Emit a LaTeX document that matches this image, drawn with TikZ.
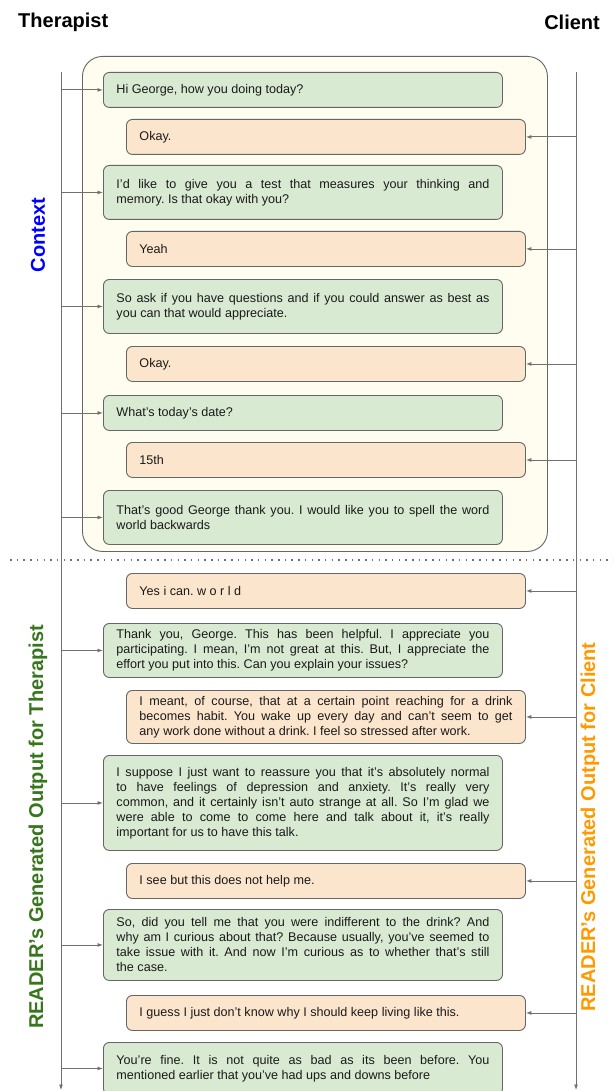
\documentclass[tikz,border=0pt]{standalone}
\usepackage{fontspec}
\setmainfont{Liberation Sans}
\usetikzlibrary{arrows.meta}
\frenchspacing
\definecolor{gfill}{HTML}{D9EAD3}
\definecolor{ofill}{HTML}{FCE5CD}
\definecolor{cfill}{HTML}{FFFCF0}
\definecolor{edgegray}{HTML}{666666}
\definecolor{linegray}{HTML}{707070}
\definecolor{txt}{HTML}{1A1A1A}
\definecolor{ctxblue}{HTML}{0000FF}
\definecolor{thgreen}{HTML}{38761D}
\definecolor{clorange}{HTML}{FF9900}
\tikzset{
  msgbox/.style={draw=edgegray, line width=0.9pt, rounded corners=6pt, anchor=north west,
    minimum width=399pt, text width=373pt, inner xsep=13pt, inner ysep=3pt,
    align=justify, text=txt, font=\fontsize{12.6}{15}\selectfont\frenchspacing},
  gbox/.style={msgbox, fill=gfill},
  obox/.style={msgbox, fill=ofill},
  conn/.style={draw=linegray, line width=0.9pt, -{Latex[length=5.5pt,width=4pt]}},
  lifeline/.style={draw=linegray, line width=0.9pt, -{Latex[length=5.5pt,width=4pt]}},
  titlelbl/.style={font=\fontsize{20}{24}\selectfont\bfseries, text=black, inner sep=0pt},
  sidelbl/.style={font=\fontsize{20}{24}\selectfont\bfseries, rotate=90, inner sep=0pt},
}
\begin{document}
\begin{tikzpicture}[x=1pt, y=-1pt]
\useasboundingbox (0,0) rectangle (613,1091);
\clip (0,0) rectangle (613,1091);
\fill[white] (0,0) rectangle (613,1091);

% titles
\node[titlelbl, anchor=west] (tther) at (18,22) {Therapist};
\node[titlelbl, anchor=east] (tcli) at (600,22) {Client};

% context container
\node[draw=edgegray, line width=0.9pt, fill=cfill, rounded corners=20pt, anchor=north west,
  minimum width=465pt, minimum height=495pt, inner sep=0pt] (ctx) at (82,56) {};

% lifelines
\coordinate (ltop) at (61,72);
\coordinate (lbot) at (61,1090);
\coordinate (rtop) at (576,72);
\coordinate (rbot) at (576,1090);
\draw[lifeline] (ltop) -- (lbot);
\draw[lifeline] (rtop) -- (rbot);

% separator
\coordinate (sepL) at (10,560);
\coordinate (sepR) at (613,560);
\draw[linegray, line width=1.5pt, dash pattern=on 1.5pt off 5.2pt] (sepL) -- (sepR);

% side labels
\node[sidelbl, text=ctxblue] (lctx) at (38,235) {Context};
\node[sidelbl, text=thgreen] (lther) at (38,827) {READER’s Generated Output for Therapist};
\node[sidelbl, text=clorange] (lcli) at (590,827) {READER’s Generated Output for Client};

% messages
\node[gbox, minimum height=35pt] (m1) at (103,72) {Hi George, how you doing today?};
\node[obox, minimum height=35pt] (m2) at (126,119) {Okay.};
\node[gbox, minimum height=54pt] (m3) at (103,165) {I’d like to give you a test that measures your thinking and\linebreak memory. Is that okay with you?};
\node[obox, minimum height=35pt] (m4) at (126,231) {Yeah};
\node[gbox, minimum height=54pt] (m5) at (103,279) {So ask if you have questions and if you could answer as best as\linebreak you can that would appreciate.};
\node[obox, minimum height=35pt] (m6) at (126,346) {Okay.};
\node[gbox, minimum height=35pt] (m7) at (103,395) {What’s today’s date?};
\node[obox, minimum height=35pt] (m8) at (126,442) {15th};
\node[gbox, minimum height=54pt] (m9) at (103,490) {That’s good George thank you. I would like you to spell the word\linebreak world backwards};
\node[obox, minimum height=35pt] (m10) at (126,573) {Yes i can. w o r l d};
\node[gbox, minimum height=54pt] (m11) at (103,623) {Thank you, George. This has been helpful. I appreciate you\linebreak participating. I mean, I’m not great at this. But, I appreciate the\linebreak effort you put into this. Can you explain your issues?};
\node[obox, minimum height=53pt] (m12) at (126,690) {I meant, of course, that at a certain point reaching for a drink\linebreak becomes habit. You wake up every day and can’t seem to get\linebreak any work done without a drink. I feel so stressed after work.};
\node[gbox, minimum height=95pt] (m13) at (103,755) {I suppose I just want to reassure you that it’s absolutely normal\linebreak to have feelings of depression and anxiety. It’s really very\linebreak common, and it certainly isn’t auto strange at all. So I’m glad we\linebreak were able to come to come here and talk about it, it’s really\linebreak important for us to have this talk.};
\node[obox, minimum height=35pt] (m14) at (126,863) {I see but this does not help me.};
\node[gbox, minimum height=71pt] (m15) at (103,909) {So, did you tell me that you were indifferent to the drink? And\linebreak why am I curious about that? Because usually, you’ve seemed to\linebreak take issue with it. And now I’m curious as to whether that’s still\linebreak the case.};
\node[obox, minimum height=35pt] (m16) at (126,995) {I guess I just don’t know why I should keep living like this.};
\node[gbox, minimum height=52pt] (m17) at (103,1042) {You’re fine. It is not quite as bad as its been before. You\linebreak mentioned earlier that you’ve had ups and downs before};

% connectors
\foreach \m in {m1,m3,m5,m7,m9,m11,m13,m15,m17}
  \draw[conn] (\m.west -| ltop) -- (\m.west);
\foreach \m in {m2,m4,m6,m8,m10,m12,m14,m16}
  \draw[conn] (\m.east -| rtop) -- (\m.east);
\end{tikzpicture}
\end{document}
